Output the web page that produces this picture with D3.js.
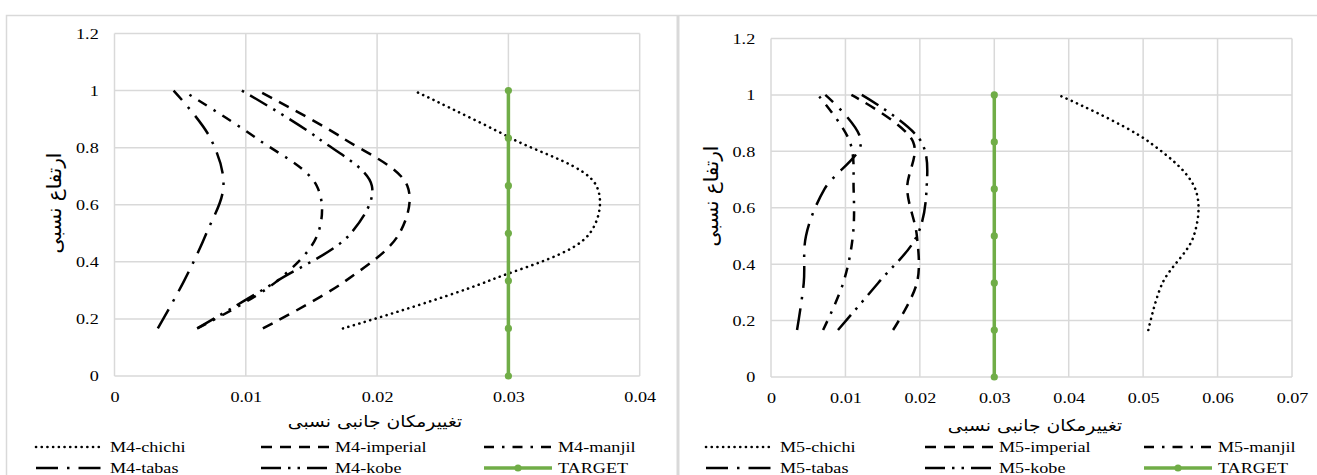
<!DOCTYPE html>
<html>
<head>
<meta charset="utf-8">
<script src="https://cdn.jsdelivr.net/npm/d3@7"></script>
<style>
  body { margin: 0; background: #fff; }
  svg { display: block; }
  .latin { font-family: "Liberation Serif", "DejaVu Serif", "Times New Roman", serif; }
  .persian { font-family: "DejaVu Sans", sans-serif; }
</style>
</head>
<body>
<div id="chart"></div>
<script>
// relative height of each storey (y), drift values (x)
const heights = [1 / 6, 2 / 6, 3 / 6, 4 / 6, 5 / 6, 1];
const targetHeights = [0, 1 / 6, 2 / 6, 3 / 6, 4 / 6, 5 / 6, 1];
const targetDrift = 0.03;

const records = ["chichi", "imperial", "manjil", "tabas", "kobe"];

// M4 model
const m4Chichi = [0.0174, 0.0285, 0.0362, 0.0367, 0.0302, 0.0228];
const m4Imperial = [0.0113, 0.0176, 0.0217, 0.0223, 0.0174, 0.0109];
const m4Manjil = [0.0063, 0.0124, 0.0155, 0.0154, 0.0108, 0.0052];
const m4Tabas = [0.0033, 0.0053, 0.0070, 0.0083, 0.0073, 0.0045];
const m4Kobe = [0.0063, 0.0124, 0.0180, 0.0196, 0.0155, 0.0097];

// M5 model
const m5Chichi = [0.0507, 0.0526, 0.0568, 0.0570, 0.0508, 0.0386];
const m5Imperial = [0.0164, 0.0196, 0.0196, 0.0183, 0.0191, 0.0108];
const m5Manjil = [0.0070, 0.0097, 0.0110, 0.0111, 0.0106, 0.0063];
const m5Tabas = [0.0035, 0.0044, 0.0047, 0.0072, 0.0121, 0.0073];
const m5Kobe = [0.0090, 0.0144, 0.0196, 0.0209, 0.0202, 0.0122];

const m4Ticks = [0, 0.01, 0.02, 0.03, 0.04];
const m5Ticks = [0, 0.01, 0.02, 0.03, 0.04, 0.05, 0.06, 0.07];
const yTicks = [0, 0.2, 0.4, 0.6, 0.8, 1, 1.2];

const xTitle = "تغییرمکان جانبی نسبی";
const yTitle = "ارتفاع نسبی";

const W = 1317, H = 475;
const stretch = 1.17; // the source picture is a bit wider than tall
const green = "#70AD47";
const gridColor = "#d9d9d9";

const styles = {
  chichi: { dash: "0.1,5.6", cap: "round", w: 2.6 },
  imperial: { dash: "11,8", cap: "butt", w: 2.5 },
  manjil: { dash: "10,8,2.5,8", cap: "butt", w: 2.5 },
  tabas: { dash: "22,9,2.5,9", cap: "butt", w: 2.5 },
  kobe: { dash: "20,7,2.5,7,2.5,7", cap: "butt", w: 2.5 }
};

const svg = d3.select("#chart").append("svg")
  .attr("width", W).attr("height", H);

svg.append("rect").attr("width", W).attr("height", H).attr("fill", "#fff");

// outer frames
svg.append("path").attr("d", `M6.5,${H} V15.5 H${W}`)
  .attr("fill", "none").attr("stroke", gridColor).attr("stroke-width", 1.5);
svg.append("line").attr("x1", 678).attr("x2", 678).attr("y1", 15).attr("y2", H)
  .attr("stroke", gridColor).attr("stroke-width", 3);

const fmt = (d) => String(+d.toFixed(2));

const panels = [
  {
    prefix: "M4-", data: [m4Chichi, m4Imperial, m4Manjil, m4Tabas, m4Kobe],
    xMax: 0.04, xTicks: m4Ticks,
    left: 114.5, right: 639.7, top: 33.5, bottom: 376,
    yTitle: [55, 203], xTitle: [375, 427], legendText: [110, 335, 558]
  },
  {
    prefix: "M5-", data: [m5Chichi, m5Imperial, m5Manjil, m5Tabas, m5Kobe],
    xMax: 0.07, xTicks: m5Ticks,
    left: 771, right: 1292, top: 38.5, bottom: 377,
    yTitle: [712, 196], xTitle: [1035, 431], legendText: [780, 999, 1218]
  }
];

panels.forEach((p) => {
  const x = d3.scaleLinear().domain([0, p.xMax]).range([p.left, p.right]);
  const y = d3.scaleLinear().domain([0, 1.2]).range([p.bottom, p.top]);

  const g = svg.append("g");

  // gridlines
  g.append("g").selectAll("line").data(yTicks).join("line")
    .attr("x1", p.left).attr("x2", p.right)
    .attr("y1", (d) => y(d)).attr("y2", (d) => y(d))
    .attr("stroke", gridColor).attr("stroke-width", 1.5);
  g.append("g").selectAll("line").data(p.xTicks).join("line")
    .attr("x1", (d) => x(d)).attr("x2", (d) => x(d))
    .attr("y1", p.top).attr("y2", p.bottom)
    .attr("stroke", gridColor).attr("stroke-width", 1.5);

  // axes (labels only)
  const ax = g.append("g").attr("transform", `translate(0,${p.bottom})`)
    .call(d3.axisBottom(x).tickValues(p.xTicks).tickFormat(fmt).tickSize(0).tickPadding(15));
  const ay = g.append("g").attr("transform", `translate(${p.left},0)`)
    .call(d3.axisLeft(y).tickValues(yTicks).tickFormat(fmt).tickSize(0).tickPadding(13.5));
  [ax, ay].forEach((a) => {
    a.attr("font-family", null);
    a.select(".domain").remove();
    a.selectAll(".tick text")
      .attr("class", "latin")
      .attr("font-size", 15.5).attr("fill", "#000")
      .attr("transform", `scale(${stretch},1)`);
  });

  // titles
  g.append("text").attr("class", "persian")
    .attr("transform", `translate(${p.xTitle[0]},${p.xTitle[1]}) scale(${stretch},1)`)
    .attr("text-anchor", "middle").attr("font-size", 16).attr("fill", "#000")
    .text(xTitle);
  g.append("text").attr("class", "persian")
    .attr("transform", `translate(${p.yTitle[0]},${p.yTitle[1]}) rotate(-90) scale(${stretch},${stretch})`)
    .attr("text-anchor", "middle").attr("dy", "0.3em").attr("font-size", 17).attr("fill", "#000")
    .text(yTitle);

  // series
  const line = d3.line()
    .x((d) => x(d[0])).y((d) => y(d[1]))
    .curve(d3.curveCatmullRom.alpha(0.5));

  records.forEach((r, i) => {
    const pts = p.data[i].map((v, k) => [v, heights[k]]);
    const s = styles[r];
    g.append("path").datum(pts)
      .attr("d", line)
      .attr("fill", "none").attr("stroke", "#000")
      .attr("stroke-width", s.w).attr("stroke-dasharray", s.dash)
      .attr("stroke-linecap", s.cap);
  });

  const tPts = targetHeights.map((h) => [targetDrift, h]);
  g.append("path").datum(tPts).attr("d", d3.line().x((d) => x(d[0])).y((d) => y(d[1])))
    .attr("fill", "none").attr("stroke", green).attr("stroke-width", 3.5);
  g.append("g").selectAll("circle").data(tPts).join("circle")
    .attr("cx", (d) => x(d[0])).attr("cy", (d) => y(d[1])).attr("r", 3.6)
    .attr("fill", green);

  // legend
  const names = records.concat(["TARGET"]);
  const rowY = [447, 468];
  names.forEach((n, i) => {
    const row = Math.floor(i / 3), col = i % 3;
    const tx = p.legendText[col];
    const ly = rowY[row];
    const lg = g.append("g");
    if (n === "TARGET") {
      lg.append("line").attr("x1", tx - 74).attr("x2", tx - 6).attr("y1", ly).attr("y2", ly)
        .attr("stroke", green).attr("stroke-width", 3.5);
      lg.append("circle").attr("cx", tx - 40).attr("cy", ly).attr("r", 3.6).attr("fill", green);
    } else {
      const s = styles[n];
      lg.append("line").attr("x1", tx - 74).attr("x2", tx - 6).attr("y1", ly).attr("y2", ly)
        .attr("stroke", "#000").attr("stroke-width", s.w)
        .attr("stroke-dasharray", s.dash).attr("stroke-linecap", s.cap);
    }
    lg.append("text").attr("class", "latin")
      .attr("transform", `translate(${tx},${ly + 5}) scale(${stretch},1)`)
      .attr("font-size", 15.5).attr("fill", "#000")
      .text(n === "TARGET" ? n : p.prefix + n);
  });
});
</script>
</body>
</html>
